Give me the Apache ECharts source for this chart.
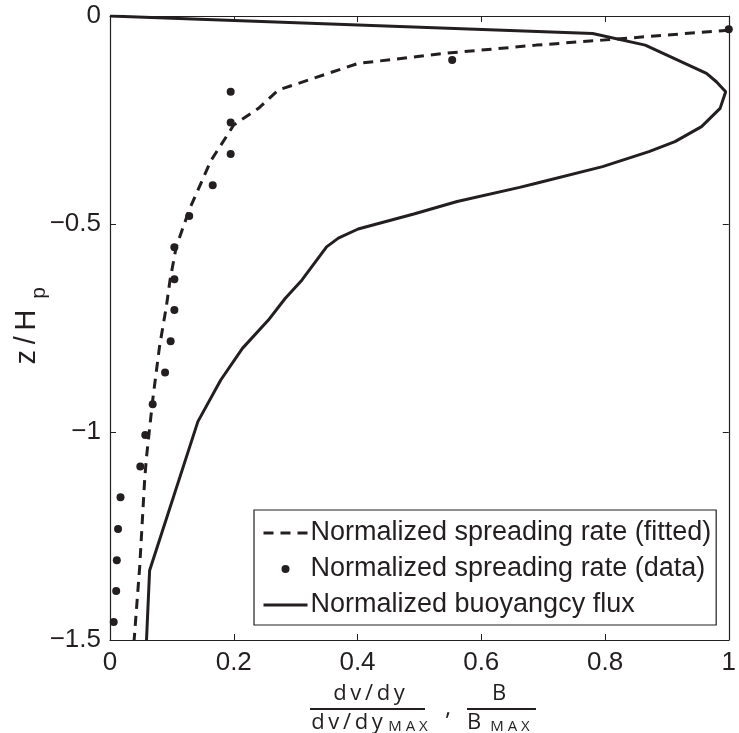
<!DOCTYPE html>
<html>
<head>
<meta charset="utf-8">
<script src="https://cdn.jsdelivr.net/npm/echarts@6/dist/echarts.min.js"></script>
<style>html,body{margin:0;padding:0;background:#fff}#c{width:739px;height:733px}</style>
</head>
<body>
<div id="c"></div>
<script>
// ---- data ----
var fittedX = [1.0, 0.796, 0.689, 0.54, 0.401, 0.272, 0.24, 0.20, 0.163, 0.128, 0.107, 0.097, 0.091, 0.080, 0.069, 0.059, 0.056, 0.048, 0.039];
var fittedY = [-0.034, -0.058, -0.070, -0.090, -0.114, -0.178, -0.222, -0.262, -0.348, -0.466, -0.555, -0.635, -0.699, -0.795, -0.923, -1.06, -1.115, -1.324, -1.5];

var dataX = [1.0, 0.553, 0.195, 0.195, 0.195, 0.166, 0.128, 0.104, 0.104, 0.104, 0.098, 0.089, 0.069, 0.057, 0.049, 0.017, 0.013, 0.011, 0.010, 0.006];
var dataY = [-0.032, -0.106, -0.182, -0.256, -0.332, -0.407, -0.481, -0.556, -0.633, -0.707, -0.782, -0.857, -0.933, -1.007, -1.083, -1.157, -1.233, -1.308, -1.382, -1.457];

var buoyX = [0, 0.78, 0.865, 0.964, 0.98, 0.995, 0.986, 0.956, 0.913, 0.871, 0.796, 0.689, 0.662, 0.561, 0.491, 0.401, 0.369, 0.350, 0.31, 0.283, 0.256, 0.214, 0.179, 0.142, 0.064, 0.059];
var buoyY = [0, -0.042, -0.07, -0.138, -0.158, -0.182, -0.222, -0.266, -0.302, -0.326, -0.362, -0.402, -0.412, -0.446, -0.476, -0.512, -0.534, -0.555, -0.635, -0.679, -0.731, -0.799, -0.875, -0.975, -1.333, -1.5];

var seriesNames = ['Normalized spreading rate (fitted)', 'Normalized spreading rate (data)', 'Normalized buoyangcy flux'];
var xTicks = {min: 0, max: 1, interval: 0.2};
var yTicks = {min: -1.5, max: 0, interval: 0.5};

function zip(a, b) { return a.map(function (v, i) { return [v, b[i]]; }); }

var INK = '#231f20';
var FONT = 'Liberation Sans';

var chart = echarts.init(document.getElementById('c'), null, {renderer: 'canvas'});

function fmt(v) {
  var s = String(+v.toFixed(2));
  return s.replace('-', '\u2212');
}

var axisCommon = {
  axisLine: {show: true, onZero: false, lineStyle: {color: INK, width: 1.2}},
  axisTick: {show: true, inside: true, length: 6, lineStyle: {color: INK, width: 1}},
  splitLine: {show: false}
};

var hiddenSymbol = {color: 'rgba(0,0,0,0)', borderWidth: 0, opacity: 0};

chart.setOption({
  animation: false,
  backgroundColor: '#fff',
  grid: {left: 110, right: 5, top: 16, bottom: 93, containLabel: false},
  xAxis: [
    Object.assign({type: 'value', position: 'bottom', min: xTicks.min, max: xTicks.max, interval: xTicks.interval,
      axisLabel: {color: INK, fontFamily: FONT, fontSize: 26, margin: 10, formatter: fmt}}, axisCommon),
    Object.assign({type: 'value', position: 'top', min: xTicks.min, max: xTicks.max, interval: xTicks.interval,
      axisLabel: {show: false}}, axisCommon)
  ],
  yAxis: [
    Object.assign({type: 'value', position: 'left', min: yTicks.min, max: yTicks.max, interval: yTicks.interval,
      axisLabel: {color: INK, fontFamily: FONT, fontSize: 26, margin: 9, formatter: fmt}}, axisCommon),
    Object.assign({type: 'value', position: 'right', min: yTicks.min, max: yTicks.max, interval: yTicks.interval,
      axisLabel: {show: false}}, axisCommon)
  ],
  legend: {
    orient: 'vertical',
    left: 254, top: 510,
    backgroundColor: '#fff',
    borderColor: INK, borderWidth: 1.2, borderRadius: 0,
    padding: [8, 5, 5, 8],
    itemWidth: 44, itemHeight: 8, itemGap: 6,
    selectedMode: false,
    lineStyle: {width: 3},
    textStyle: {color: INK, fontFamily: FONT, fontSize: 27, lineHeight: 30, padding: [0, 0, 0, -2]},
    data: [
      {name: seriesNames[0], itemStyle: hiddenSymbol},
      {name: seriesNames[1]},
      {name: seriesNames[2], itemStyle: hiddenSymbol}
    ]
  },
  series: [
    {
      name: seriesNames[0], type: 'line', data: zip(fittedX, fittedY),
      symbol: 'none', lineStyle: {color: INK, width: 3, type: [10, 7]}, itemStyle: {color: INK},
      clip: true, z: 3
    },
    {
      name: seriesNames[1], type: 'scatter', data: zip(dataX, dataY),
      symbol: 'circle', symbolSize: 8, itemStyle: {color: INK, opacity: 1}, clip: false, z: 4
    },
    {
      name: seriesNames[2], type: 'line', data: zip(buoyX, buoyY),
      symbol: 'none', lineStyle: {color: INK, width: 3}, itemStyle: {color: INK},
      clip: true, z: 2
    }
  ],
  graphic: [
    // y axis title z/H_p
    {type: 'text', x: 27, y: 337, rotation: Math.PI / 2,
      style: {text: 'z\u2009/\u2009H', font: '29px "Liberation Sans"', fill: INK, align: 'center', verticalAlign: 'middle'}},
    {type: 'text', x: 39, y: 293, rotation: Math.PI / 2,
      style: {text: 'p', font: '21px "Liberation Sans"', fill: INK, align: 'center', verticalAlign: 'middle'}},
    // x axis title
    {type: 'text', x: 369, y: 694,
      style: {text: 'd\u2009v\u2009/\u2009d\u2009y', font: '22px "Open Sans"', fill: INK, align: 'center', verticalAlign: 'middle'}},
    {type: 'line', shape: {x1: 310, y1: 709, x2: 425, y2: 709}, style: {stroke: INK, lineWidth: 2}},
    {type: 'text', x: 347, y: 723,
      style: {text: 'd\u2009v\u2009/\u2009d\u2009y', font: '22px "Open Sans"', fill: INK, align: 'center', verticalAlign: 'middle'}},
    {type: 'text', x: 408, y: 727,
      style: {text: 'M A X', font: '15px "Open Sans"', fill: INK, align: 'center', verticalAlign: 'middle'}},
    {type: 'text', x: 448, y: 708,
      style: {text: ',', font: '24px "Open Sans"', fill: INK, align: 'center', verticalAlign: 'middle'}},
    {type: 'text', x: 499, y: 694,
      style: {text: 'B', font: '22px "Open Sans"', fill: INK, align: 'center', verticalAlign: 'middle'}},
    {type: 'line', shape: {x1: 467, y1: 709, x2: 536, y2: 709}, style: {stroke: INK, lineWidth: 2}},
    {type: 'text', x: 474, y: 723,
      style: {text: 'B', font: '22px "Open Sans"', fill: INK, align: 'center', verticalAlign: 'middle'}},
    {type: 'text', x: 510, y: 727,
      style: {text: 'M A X', font: '15px "Open Sans"', fill: INK, align: 'center', verticalAlign: 'middle'}}
  ]
});
</script>
</body>
</html>
